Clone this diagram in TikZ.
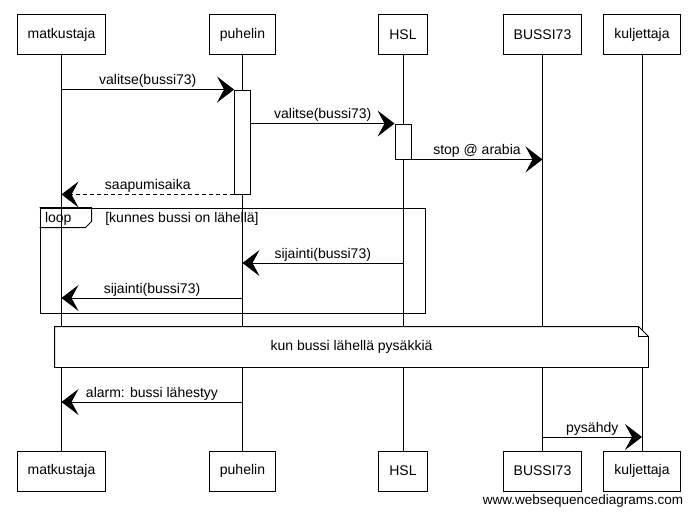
\documentclass[tikz,border=0pt]{standalone}
\usepackage{fontspec}
\setmainfont{Liberation Sans}
\usetikzlibrary{arrows.meta, positioning}

\begin{document}
\begin{tikzpicture}[x=1pt, y=-1pt, line width=0.9pt,
    every node/.style={font=\fontsize{14}{16}\selectfont},
    actor/.style={draw, fill=white, minimum height=40pt, inner xsep=10.5pt},
    act/.style={draw, fill=white, minimum width=16pt, inner sep=0pt},
    msg/.style={-{Stealth[length=17pt, width=26pt, inset=7pt]}},
    reply/.style={msg, dash pattern=on 4pt off 3pt},
    lbl/.style={above, inner sep=1.5pt}]
                        \useasboundingbox (0,0) rectangle (695,516);

                        \node[actor] (matkustaja) at (61.5,34.5) {matkustaja};
                        \node[actor] (puhelin) at (242.5,34.5) {puhelin};
                        \node[actor] (hsl) at (403,34.5) {HSL};
                        \node[actor] (bussi) at (542.5,34.5) {BUSSI73};
                        \node[actor] (kuljettaja) at (642,34.5) {kuljettaja};

                        \node[actor] (matkustaja2) at (61.5,471) {matkustaja};
                        \node[actor] (puhelin2) at (242.5,471) {puhelin};
                        \node[actor] (hsl2) at (403,471) {HSL};
                        \node[actor] (bussi2) at (542.5,471) {BUSSI73};
                        \node[actor] (kuljettaja2) at (642,471) {kuljettaja};

                        \draw
                        (matkustaja) -- (matkustaja2)
                        (puhelin) -- (puhelin2)
                        (hsl) -- (hsl2)
                        (bussi) -- (bussi2)
                        (kuljettaja) -- (kuljettaja2);

                        \node[act, minimum height=104pt] (act1) at (242.5,142) {};
                        \node[act, minimum height=35pt] (act2) at (403,141.5) {};

                        \draw[msg] (matkustaja.south |- act1.north) -- (act1.north west) node[lbl, midway] {valitse(bussi73)};
                        \draw[msg] (act1.east |- act2.north) -- (act2.north west) node[lbl, midway] {valitse(bussi73)};
                        \draw[msg] (act2.south east) -- (bussi.south |- act2.south) node[lbl, midway] {stop @ arabia};
                        \draw[reply] (act1.south west) -- (matkustaja.south |- act1.south) node[lbl, midway] {saapumisaika};

                        % loop
                        \node[draw, minimum width=385pt, minimum height=105pt, inner sep=0pt] (loop) at (232.5,260.5) {};
                        \draw (loop.north west) -- ++(52,0) -- ++(0,14) -- ++(-6,6) -- ++(-46,0);
                        \node[anchor=north west, inner xsep=5pt, inner ysep=2pt, minimum height=21pt] (tab) at (loop.north west) {loop};
                        \node[anchor=west] (cond) at ([xshift=62pt]tab.west) {[kunnes bussi on lähellä]};

                        \coordinate (r5) at (0,263);
                        \coordinate (r6) at (0,298);
                        \draw[msg] (hsl.south |- r5) -- (puhelin.south |- r5) node[lbl, midway] {sijainti(bussi73)};
                        \draw[msg] (puhelin.south |- r6) -- (matkustaja.south |- r6) node[lbl, midway] {sijainti(bussi73)};

                        % note
                        \node[minimum width=593pt, minimum height=40pt, inner sep=0pt] (note) at (351.5,347) {};
                        \filldraw[fill=white] (note.north west) -- ([xshift=-10pt]note.north east) -- ([yshift=-10pt]note.north east) -- (note.south east) -- (note.south west) -- cycle;
                        \draw ([xshift=-10pt]note.north east) -- ([xshift=-10pt, yshift=-10pt]note.north east) -- ([yshift=-10pt]note.north east);
                        \node (notetext) at (note) {kun bussi lähellä pysäkkiä};

                        \coordinate (r7) at (0,402);
                        \coordinate (r8) at (0,437);
                        \draw[msg] (puhelin.south |- r7) -- (matkustaja.south |- r7) node[lbl, midway] {alarm: bussi lähestyy};
                        \draw[msg] (bussi.south |- r8) -- (kuljettaja.south |- r8) node[lbl, midway] {pysähdy};

                        \node[anchor=east, font=\fontsize{13.5}{15}\selectfont] (credit) at (687,501) {www.websequencediagrams.com};
                    \end{tikzpicture}
\end{document}
